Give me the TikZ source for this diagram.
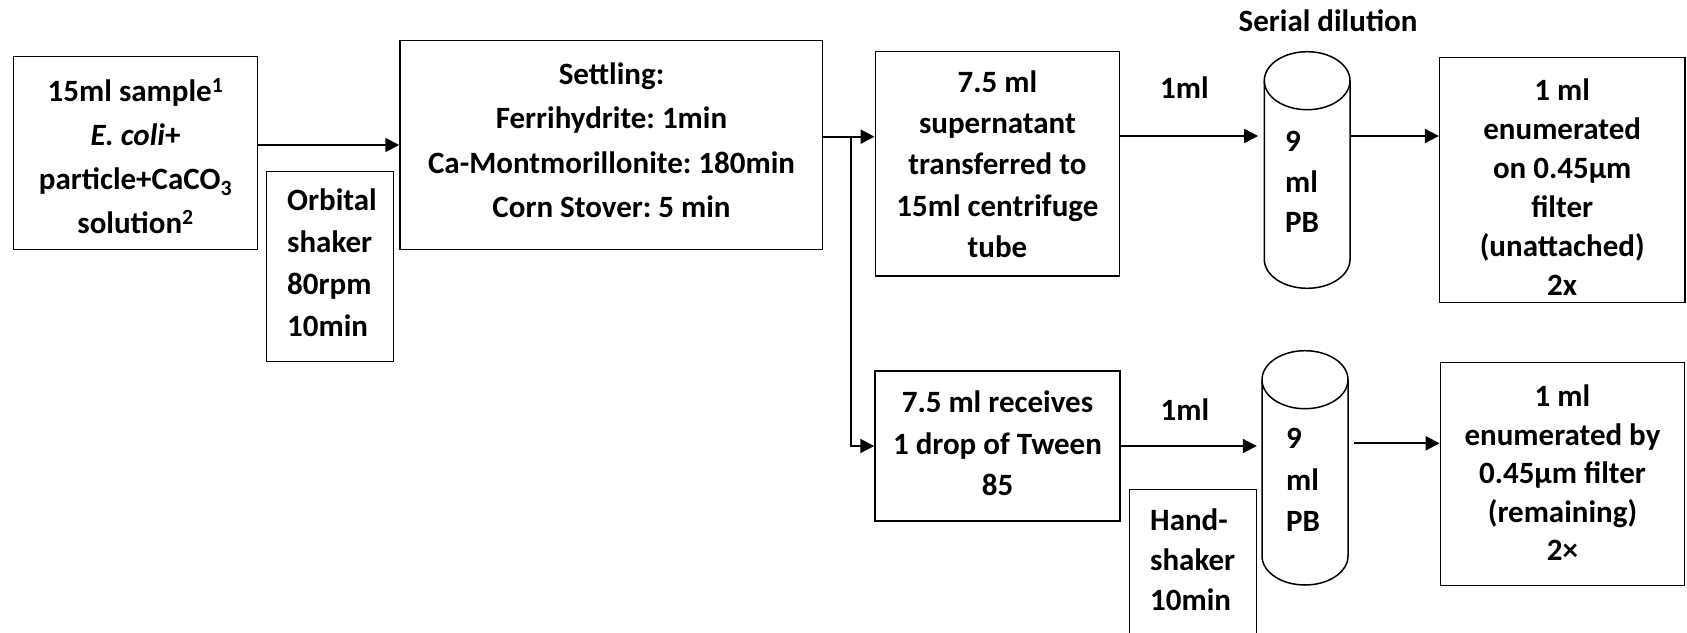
\documentclass[tikz,border=0pt]{standalone}
\usepackage{fontspec}
\setmainfont{Carlito}
\usetikzlibrary{arrows.meta}
\begin{document}
\frenchspacing
\begin{tikzpicture}[x=1pt,y=-1pt,
  box/.style={draw,line width=1.5pt,inner sep=0pt},
  txt/.style={font=\fontsize{31}{#1}\selectfont\bfseries,align=center,inner sep=0pt},
  ltxt/.style={font=\fontsize{31}{#1}\selectfont\bfseries,align=left,inner sep=0pt,anchor=west},
  arr/.style={line width=2pt,-{Triangle[length=14pt,width=14pt]}},
  ln/.style={line width=1.5pt},
  area/.style={inner sep=0pt}
]
\useasboundingbox (0,0) rectangle (1687,632);

% boxes
\node[box,minimum width=243.9pt,minimum height=192.6pt] (b1) at (135.55,153) {};
\node[box,minimum width=422.5pt,minimum height=208.6pt] (b2) at (611.25,145) {};
\node[box,minimum width=244.1pt,minimum height=224.3pt] (b3) at (997.35,163.85) {};
\node[box,minimum width=244.9pt,minimum height=150pt] (b4) at (997.45,446) {};
\node[box,minimum width=245.2pt,minimum height=245.4pt] (b5) at (1562.2,180) {};
\node[box,minimum width=244.3pt,minimum height=223.4pt] (b6) at (1562.55,474) {};
\node[box,minimum width=126.9pt,minimum height=190pt] (orb) at (330.15,266.7) {};
\node[box,minimum width=127.4pt,minimum height=160.7pt] (hand) at (1193,569.65) {};

% cylinders
\node[area,minimum width=85.7pt,minimum height=236.6pt] (c1) at (1307.15,170) {};
\node[area,minimum width=86pt,minimum height=234.3pt] (c2) at (1305,467.85) {};
\draw[ln] (1264.3,80.7) -- (1264.3,259.3) arc[start angle=180,end angle=0,x radius=42.85,y radius=29] -- (1350,80.7);
\draw[ln] (1307.15,80.7) ellipse [x radius=42.85,y radius=29];
\draw[ln] (1262,379.7) -- (1262,556) arc[start angle=180,end angle=0,x radius=43,y radius=29] -- (1348,379.7);
\draw[ln] (1305,379.7) ellipse [x radius=43,y radius=29];

% texts
\node[txt=44] (t1) at (135.5,156.5) {15ml sample\textsuperscript{1}\\\textit{E. coli}+\\particle+CaCO\textsubscript{3}\\solution\textsuperscript{2}};
\node[txt=44.5] (t2) at (611.5,140) {Settling:\\Ferrihydrite: 1min\\Ca-Montmorillonite: 180min\\Corn Stover: 5 min};
\node[txt=41.25] (t3) at (997.4,164.2) {7.5 ml\\supernatant\\transferred to\\15ml centrifuge\\tube};
\node[txt=39] (t5) at (1562.2,187.5) {1 ml\\enumerated\\on 0.45µm\\filter\\(unattached)\\2x};
\node[txt=41.7] (t4) at (997.5,443.3) {7.5 ml receives\\1 drop of Tween\\85};
\node[txt=38.5] (t6) at (1562.5,473) {1 ml\\enumerated by\\0.45µm filter\\(remaining)\\2×};
\node[ltxt=41.7] (torb) at (287,262.75) {Orbital\\shaker\\80rpm\\10min};
\node[ltxt=40] (thand) at (1150,560) {Hand-\\shaker\\10min};
\node[ltxt=40.5] (tc1) at (1285,182.2) {9\\ml\\PB};
\node[ltxt=41.7] (tc2) at (1286,480) {9\\ml\\PB};
\node[txt=34] (serial) at (1328,20.7) {Serial dilution};
\node[txt=34] (ml1) at (1184.5,87.3) {1ml};
\node[txt=34] (ml2) at (1185,409.3) {1ml};

% connectors
\coordinate (j) at (850.7,136.7);
\draw[arr] (b1.east |- 0,145) -- (b2.west |- 0,145);
\draw[arr] (b2.east |- 0,136.7) -- (b3.west |- 0,136.7);
\draw[arr] (j) |- (b4.west);
\draw[arr,shorten >=6pt] (b3.east |- 0,136) -- (c1.west |- 0,136);
\draw[arr] (c1.east |- 0,136) -- (b5.west |- 0,136);
\draw[arr,shorten >=5pt] (b4.east) -- (c2.west |- b4.east);
\draw[arr,shorten <=6pt] (c2.east |- 0,443.3) -- (b6.west |- 0,443.3);
\end{tikzpicture}
\end{document}
